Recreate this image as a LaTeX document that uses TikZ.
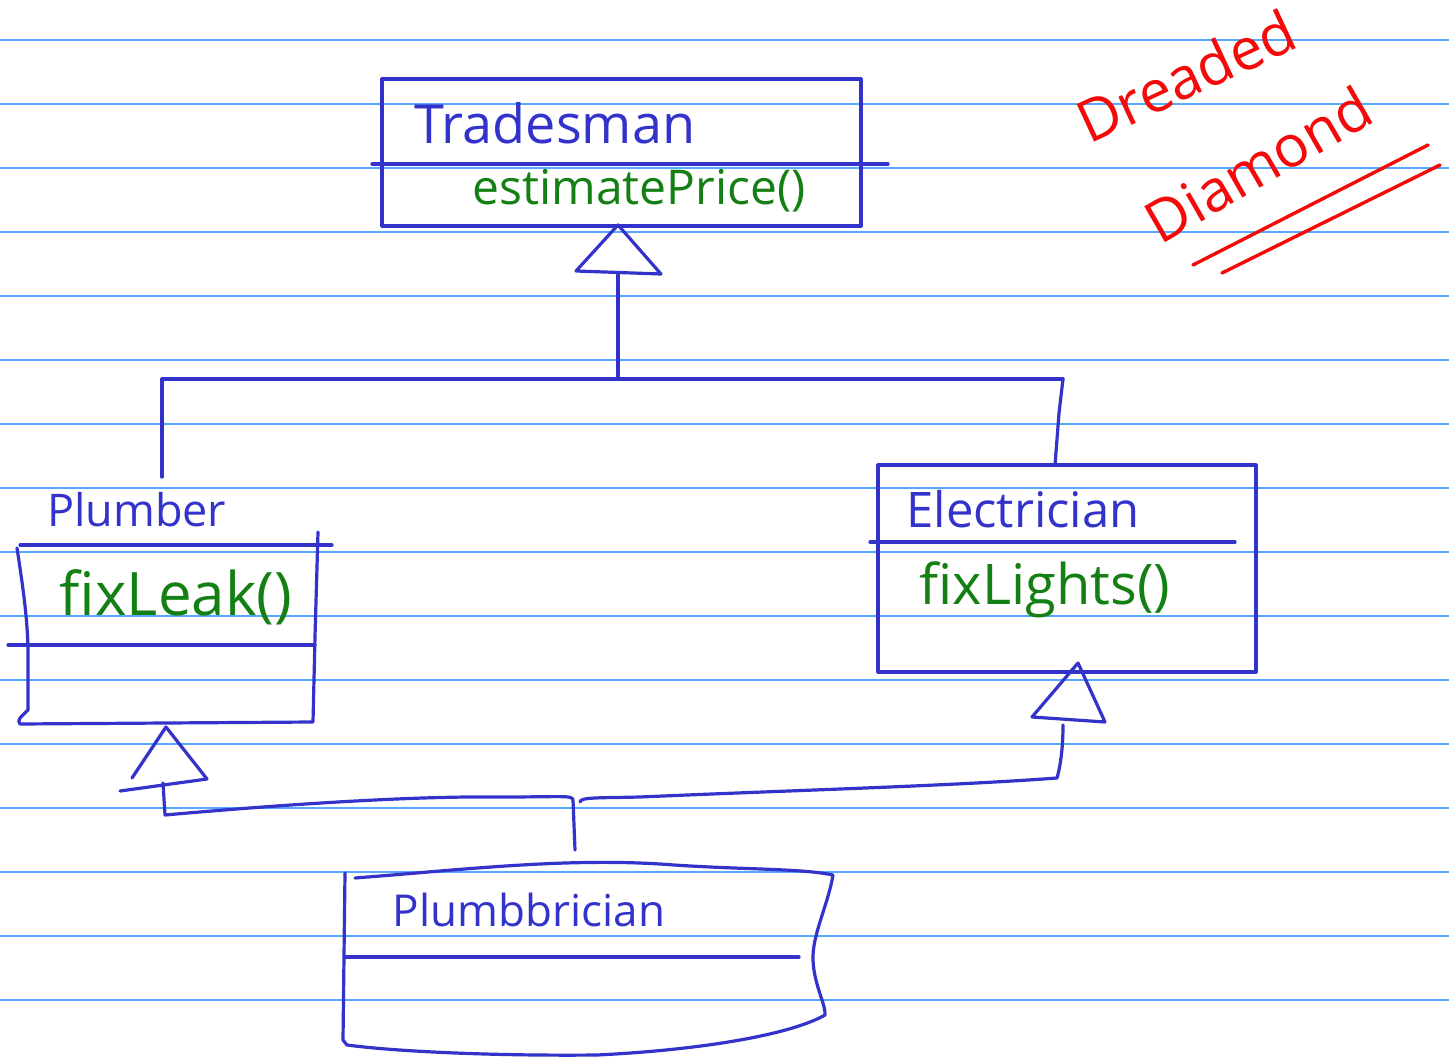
\documentclass[tikz,border=0pt]{standalone}
\usepackage{fontspec}
\setmainfont{Open Sans}
\definecolor{ink}{RGB}{51,51,204}
\definecolor{leaf}{RGB}{20,128,20}
\definecolor{pen}{RGB}{245,10,10}
\definecolor{paperrule}{RGB}{85,170,255}
\begin{document}
\begin{tikzpicture}[x=1pt,y=-1pt,
  ruled/.style={draw=paperrule,line width=1.3pt},
  ink/.style={draw=ink,line width=3.2pt,line cap=round,line join=round},
  redink/.style={draw=pen,line width=3.4pt,line cap=round},
  classbox/.style={ink,rectangle,inner sep=0pt,outer sep=0pt},
  cname/.style={text=ink,inner sep=0pt,font=\fontsize{#1}{#1}\selectfont},
  cname/.default=46,
  cop/.style={text=leaf,inner sep=0pt,font=\fontsize{#1}{#1}\selectfont},
  cop/.default=48,
  remark/.style={text=pen,inner sep=0pt,font=\fontsize{58}{60}\selectfont}]

\useasboundingbox (0,0) rectangle (1449,1057);
\fill[white] (0,0) rectangle (1449,1057);

% ruled paper
\foreach \y in {40,104,...,1000}
  \draw[ruled] (0,\y) -- (1449,\y);

% ---------- Tradesman ----------
\node[classbox,minimum width=479,minimum height=147] (trade) at (621.5,152.5) {};
\draw[ink] (372,164) -- (888,164);
\node[cname=54] (tradename) at (555,123) {Tradesman};
\node[cop=48] (tradeop) at (639,191) {estimatePrice()};

% generalisation arrow into Tradesman
\coordinate (tapex) at (618,225);
\coordinate (tbase) at (618,273);
\draw[ink] (tapex) -- (576,271) -- (661,274) -- cycle;
\coordinate (hubmid) at (618,379);
\coordinate (hubleft) at (162,379);
\coordinate (hubright) at (1063,379);
\draw[ink] (tbase) -- (hubmid);
\draw[ink] (hubleft) -- (hubright);

% ---------- Plumber ----------
\node[cname=45,anchor=west] (plumbname) at (47,510) {Plumber};
\draw[ink] (20,545) -- (332,545);
\draw[ink] (318,532) -- (315,637) -- (313,722) -- (20,724)
  .. controls (16,720) and (22,716) .. (28,710)
  -- (28,647) .. controls (27,620) and (25,600) .. (17,548);
\draw[ink] (8,645) -- (315,645);
\node[cop=60] (plumbop) at (176,597) {fixLeak()};
\coordinate (plumbtop) at (162,477);
\draw[ink] (hubleft) -- (plumbtop);

% arrow into Plumber
\coordinate (papex) at (166,727);
\draw[ink] (132,778) -- (papex) -- (207,779) -- (120,791);

% ---------- Electrician ----------
\node[classbox,minimum width=378,minimum height=207] (elec) at (1067,568.5) {};
\draw[ink] (870,542) -- (1235,542);
\node[cname=49] (elecname) at (1023,509) {Electrician};
\node[cop=56] (elecop) at (1045,590) {fixLights()};
\coordinate (electop) at (1055,465);
\draw[ink] (hubright) -- (1059,413) -- (electop);

% arrow into Electrician
\coordinate (eapex) at (1078,663);
\draw[ink] (eapex) -- (1032,717) -- (1105,722) -- cycle;

% ---------- Plumbbrician ----------
\draw[ink] (355,878) .. controls (460,870) and (560,858) .. (660,864)
  .. controls (740,870) and (800,868) .. (833,875)
  .. controls (828,905) and (812,935) .. (813,960)
  .. controls (814,985) and (826,1005) .. (825,1015)
  .. controls (790,1035) and (700,1050) .. (597,1055)
  .. controls (500,1056) and (400,1052) .. (347,1045)
  -- (343,1040) -- (345,873);
\draw[ink] (345,957) -- (799,957);
\node[cname=44] (pbname) at (529,910) {Plumbbrician};

% multiple inheritance connectors
\coordinate (pbtop) at (575,850);
\coordinate (pbjoin) at (573,800);
\draw[ink] (pbtop) -- (pbjoin) .. controls (572,795) and (565,797) .. (500,797)
  .. controls (420,796) and (300,803) .. (165,815) -- (163,783);
\draw[ink] (580,802) .. controls (580,797) and (600,798) .. (640,797)
  .. controls (800,790) and (950,786) .. (1057,778)
  .. controls (1062,760) and (1063,740) .. (1063,725);

% ---------- remark ----------
\node[remark,rotate=25] (dreaded) at (1186,76) {Dreaded};
\node[remark,rotate=30] (diamond) at (1258,164) {Diamond};
\draw[redink] (1193,265) -- (1428,145);
\draw[redink] (1222,273) -- (1440,165);

\end{tikzpicture}
\end{document}
